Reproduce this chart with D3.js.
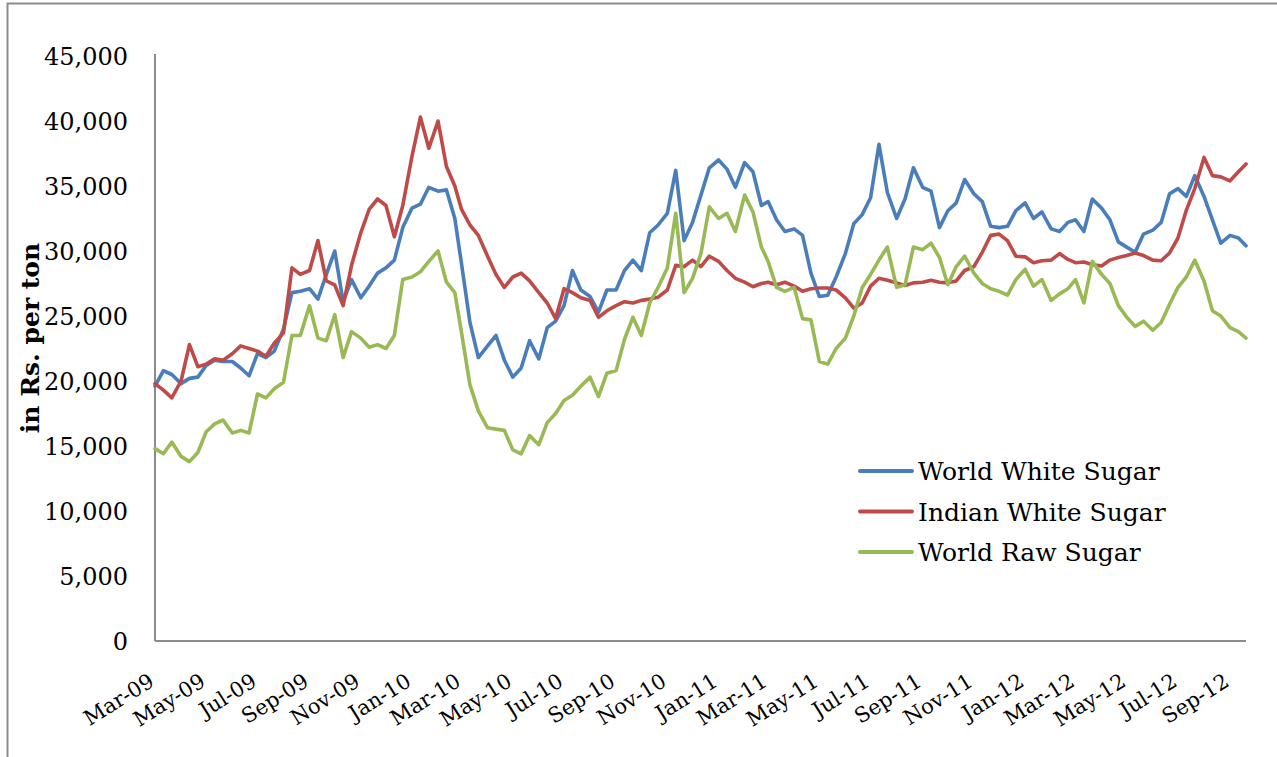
<!DOCTYPE html>
<html>
<head>
<meta charset="utf-8">
<script src="https://cdn.jsdelivr.net/npm/d3@7"></script>
<style>
  body { margin: 0; background: #fff; }
  svg text { font-family: "DejaVu Serif", serif; fill: #000; }
</style>
</head>
<body>
<svg id="chart" width="1277" height="757"></svg>
<script>
// sample dates (1st, 11th, 21st of each month)
const dates = [
  "2009-03-01","2009-03-11","2009-03-21","2009-04-01","2009-04-11","2009-04-21",
  "2009-05-01","2009-05-11","2009-05-21","2009-06-01","2009-06-11","2009-06-21",
  "2009-07-01","2009-07-11","2009-07-21","2009-08-01","2009-08-11","2009-08-21",
  "2009-09-01","2009-09-11","2009-09-21","2009-10-01","2009-10-11","2009-10-21",
  "2009-11-01","2009-11-11","2009-11-21","2009-12-01","2009-12-11","2009-12-21",
  "2010-01-01","2010-01-11","2010-01-21","2010-02-01","2010-02-11","2010-02-21",
  "2010-03-01","2010-03-11","2010-03-21","2010-04-01","2010-04-11","2010-04-21",
  "2010-05-01","2010-05-11","2010-05-21","2010-06-01","2010-06-11","2010-06-21",
  "2010-07-01","2010-07-11","2010-07-21","2010-08-01","2010-08-11","2010-08-21",
  "2010-09-01","2010-09-11","2010-09-21","2010-10-01","2010-10-11","2010-10-21",
  "2010-11-01","2010-11-11","2010-11-21","2010-12-01","2010-12-11","2010-12-21",
  "2011-01-01","2011-01-11","2011-01-21","2011-02-01","2011-02-11","2011-02-21",
  "2011-03-01","2011-03-11","2011-03-21","2011-04-01","2011-04-11","2011-04-21",
  "2011-05-01","2011-05-11","2011-05-21","2011-06-01","2011-06-11","2011-06-21",
  "2011-07-01","2011-07-11","2011-07-21","2011-08-01","2011-08-11","2011-08-21",
  "2011-09-01","2011-09-11","2011-09-21","2011-10-01","2011-10-11","2011-10-21",
  "2011-11-01","2011-11-11","2011-11-21","2011-12-01","2011-12-11","2011-12-21",
  "2012-01-01","2012-01-11","2012-01-21","2012-02-01","2012-02-11","2012-02-21",
  "2012-03-01","2012-03-11","2012-03-21","2012-04-01","2012-04-11","2012-04-21",
  "2012-05-01","2012-05-11","2012-05-21","2012-06-01","2012-06-11","2012-06-21",
  "2012-07-01","2012-07-11","2012-07-21","2012-08-01","2012-08-11","2012-08-21",
  "2012-09-01","2012-09-11","2012-09-20"
];

const world_white = [
  19600,20800,20500, 19800,20200,20300, 21200,21600,21500, 21500,21000,20400,
  22100,21800,22300, 24000,26800,26900, 27100,26300,28200, 30000,26100,27800,
  26400,27300,28300, 28700,29300,31800, 33300,33600,34900, 34600,34700,32500,
  29000,24500,21800, 22700,23500,21600, 20300,21000,23100, 21700,24100,24600,
  25800,28500,27000, 26500,25300,27000, 27000,28500,29300, 28500,31400,32000,
  32900,36200,30800, 32200,34300,36400, 37000,36300,34900, 36800,36100,33500,
  33800,32400,31500, 31700,31200,28300, 26500,26600,28000, 29800,32100,32800,
  34100,38200,34500, 32500,34000,36400, 34900,34600,31800, 33100,33700,35500,
  34400,33800,31900, 31800,31900,33100, 33700,32500,33000, 31700,31500,32200,
  32400,31500,34000, 33300,32400,30700, 30300,29900,31300, 31600,32200,34400,
  34800,34200,35800, 34200,32400,30600, 31200,31000,30400
];

const indian_white = [
  19800,19300,18700, 20000,22800,21100, 21300,21700,21600, 22100,22700,22500,
  22300,21900,22900, 23700,28700,28200, 28500,30800,27700, 27400,25800,28900,
  31400,33200,34000, 33500,31100,33500, 37300,40300,37900, 40000,36500,35000,
  33200,32000,31200, 29600,28200,27200, 28000,28300,27700, 26800,26000,24800,
  27100,26800,26400, 26200,24900,25400, 25800,26100,26000, 26200,26300,26450,
  27000,28900,28800, 29300,28800,29600, 29200,28500,27900, 27600,27250,27500,
  27600,27400,27600, 27300,26900,27100, 27150,27150,27000, 26400,25600,26000,
  27300,27900,27750, 27550,27350,27550, 27600,27750,27600, 27550,27700,28500,
  28800,29900,31200, 31300,30800,29600, 29550,29100,29250, 29300,29800,29350,
  29100,29150,28950, 28850,29300,29500, 29650,29850,29650, 29300,29250,29850,
  31000,33150,34800, 37200,35800,35700, 35400,36100,36700
];

const world_raw = [
  14800,14400,15300, 14200,13800,14500, 16100,16700,17000, 16000,16200,16000,
  19000,18700,19400, 19900,23500,23500, 25800,23300,23100, 25100,21800,23800,
  23300,22600,22800, 22500,23500,27800, 28000,28400,29200, 30000,27600,26800,
  23700,19700,17700, 16400,16300,16200, 14700,14400,15800, 15100,16800,17500,
  18500,18900,19600, 20300,18800,20600, 20800,23200,24900, 23500,26000,27200,
  28700,32900,26800, 27900,29800,33400, 32500,32900,31500, 34300,33000,30300,
  29200,27200,26900, 27200,24800,24700, 21500,21300,22500, 23300,25000,27200,
  28200,29300,30300, 27200,27400,30300, 30100,30600,29500, 27400,28800,29600,
  28300,27500,27100, 26900,26600,27800, 28600,27300,27800, 26200,26700,27100,
  27800,26000,29200, 28200,27500,25800, 24900,24200,24600, 23900,24500,25900,
  27200,28000,29300, 27700,25400,25000, 24100,23800,23300
];

const series_names = ["World White Sugar", "Indian White Sugar", "World Raw Sugar"];
const series_colors = ["#4a7ebb", "#be4b48", "#98b954"];
const y_ticks = [0, 5000, 10000, 15000, 20000, 25000, 30000, 35000, 40000, 45000];

const svg = d3.select("#chart");
const parse = d3.timeParse("%Y-%m-%d");
const dd = dates.map(parse);

let plot_left = 155, plot_right = 1246, plot_top = 56, plot_bottom = 641;

const x = d3.scaleTime().domain(d3.extent(dd)).range([plot_left, plot_right]);
const y = d3.scaleLinear().domain([0, 45000]).range([plot_bottom, plot_top]);

// outer frame
svg.append("rect")
  .attr("x", 7.5).attr("y", 3.5)
  .attr("width", 1300).attr("height", 800)
  .attr("fill", "none").attr("stroke", "#8c8c8c").attr("stroke-width", 2);

// y axis
const yAxis = d3.axisLeft(y).tickValues(y_ticks).tickSize(0).tickPadding(27)
  .tickFormat(d3.format(","));
const gy = svg.append("g").attr("transform", `translate(${plot_left},0)`).call(yAxis);
gy.select(".domain").attr("stroke", "#8c8c8c").attr("stroke-width", 2)
  .attr("d", `M0,${plot_top - 2}V${plot_bottom}`);
gy.selectAll("text").style("font-size", "24px").style("font-family", "DejaVu Serif").attr("dy", "0.36em");

// x axis
const ticks = d3.timeMonth.every(2).range(parse("2009-03-01"), parse("2012-09-02"));
const xAxis = d3.axisBottom(x).tickValues(ticks).tickSize(0).tickFormat(d3.timeFormat("%b-%y"));
const gx = svg.append("g").attr("transform", `translate(0,${plot_bottom})`).call(xAxis);
gx.select(".domain").attr("stroke", "#8c8c8c").attr("stroke-width", 2)
  .attr("d", `M${plot_left},0H${plot_right}`);
gx.selectAll("text")
  .style("font-size", "21px").style("font-family", "DejaVu Serif")
  .attr("text-anchor", "end")
  .attr("y", 0).attr("dy", 0)
  .attr("transform", "translate(0,44) rotate(-32)");

// y axis title
svg.append("text")
  .attr("transform", "translate(39,338) rotate(-90)")
  .attr("text-anchor", "middle")
  .style("font-size", "25px").style("font-weight", "bold")
  .text("in Rs. per ton");

// lines
const all = [world_white, indian_white, world_raw];
const line = d3.line()
  .x((d, i) => x(dd[i]))
  .y(d => y(d));

all.forEach(function(vals, k) {
  svg.append("path")
    .datum(vals)
    .attr("d", line)
    .attr("fill", "none")
    .attr("stroke", series_colors[k])
    .attr("stroke-width", 3.6)
    .attr("stroke-linejoin", "round")
    .attr("stroke-linecap", "round");
});

// legend
const legend = svg.append("g").attr("transform", "translate(860,471)");
series_names.forEach(function(name, k) {
  const g = legend.append("g").attr("transform", `translate(0,${k * 40.5})`);
  g.append("line").attr("x1", 0).attr("x2", 52).attr("y1", 0).attr("y2", 0)
    .attr("stroke", series_colors[k]).attr("stroke-width", 4).attr("stroke-linecap", "round");
  g.append("text").attr("x", 58).attr("y", 9)
    .style("font-size", "25px").text(name);
});
</script>
</body>
</html>
